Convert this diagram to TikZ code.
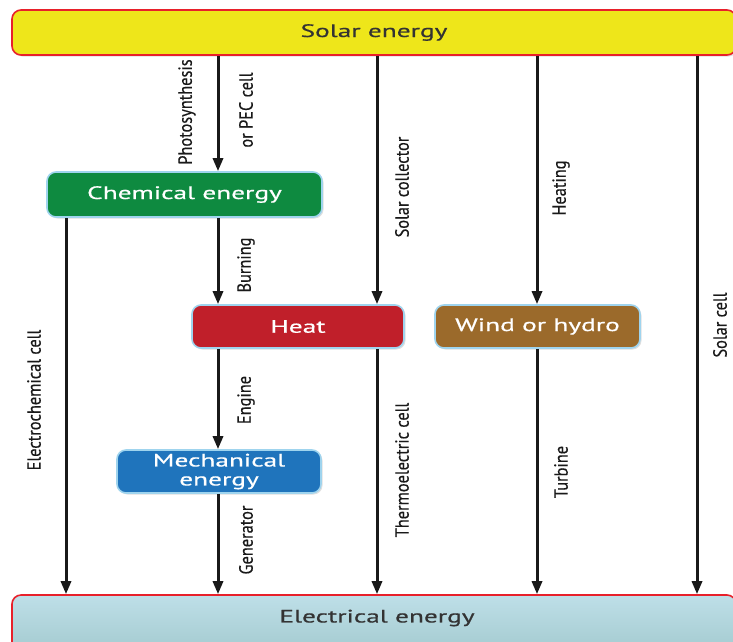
\documentclass[tikz,border=0pt]{standalone}
\usepackage{fontspec}
\usetikzlibrary{arrows.meta,shadows}
\newfontfamily\boxfontfam[FakeStretch=1.52,FakeBold=0.6]{PT Sans}
\newfontfamily\labfontfam[FakeStretch=0.86,FakeBold=0.4]{PT Sans}
\definecolor{sunyellow}{HTML}{EEE61A}
\definecolor{sunred}{HTML}{E8202A}
\definecolor{chemgreen}{HTML}{0E8A40}
\definecolor{heatred}{HTML}{C01F2A}
\definecolor{windbrown}{HTML}{9B6A2B}
\definecolor{mechblue}{HTML}{1F74BC}
\definecolor{edgeblue}{HTML}{9FD4EE}
\definecolor{electop}{HTML}{BEDFE8}
\definecolor{elecbot}{HTML}{9EC6CA}
\definecolor{darktext}{HTML}{333333}
\tikzset{
  box/.style={draw=edgeblue, line width=1.6pt, rounded corners=9pt, text=white,
    font=\boxfontfam\fontsize{18}{20}\selectfont, inner sep=0pt, align=center,
    drop shadow={opacity=0.25, shadow xshift=1.5pt, shadow yshift=-1.5pt}},
  bigbox/.style={box, draw=sunred, text=darktext},
  arr/.style={line width=3pt, draw=black!90, -{Triangle[width=10pt,length=13pt]}},
  lab/.style={rotate=90, font=\labfontfam\fontsize{19}{20}\selectfont, text=black!90, inner sep=0pt},
}
\begin{document}
\begin{tikzpicture}[x=1pt,y=-1pt]
\useasboundingbox (0,0) rectangle (733,641);
% column coordinates
\coordinate (c1) at (66,0);
\coordinate (c2) at (218,0);
\coordinate (c3) at (377,0);
\coordinate (c4) at (537,0);
\coordinate (c5) at (697,0);
% boxes
\node[bigbox, fill=sunyellow, minimum width=724pt, minimum height=45pt] (solar) at (374,32.5) {Solar energy};
\node[box, fill=chemgreen, minimum width=275pt, minimum height=45pt] (chem) at (184.5,194.5) {Chemical energy};
\node[box, fill=heatred, minimum width=212pt, minimum height=43pt] (heat) at (298,326.5) {Heat};
\node[box, fill=windbrown, minimum width=205pt, minimum height=43pt] (wind) at (537.5,326.5) {Wind or hydro};
\node[box, fill=mechblue, minimum width=204pt, minimum height=43pt] (mech) at (219,471.5) {Mechanical\\[-1pt]energy};
\node[bigbox, top color=electop, bottom color=elecbot, minimum width=724pt, minimum height=70pt] (elec) at (374,630) {};
\node[font=\boxfontfam\fontsize{18}{20}\selectfont, text=darktext, inner sep=0pt] (elecT) at (377,618) {Electrical energy};
% connectors
\draw[arr] (chem.south -| c1) -- (elec.north -| c1);
\draw[arr] (solar.south -| c2) -- (chem.north -| c2);
\draw[arr] (chem.south -| c2) -- (heat.north -| c2);
\draw[arr] (heat.south -| c2) -- (mech.north -| c2);
\draw[arr] (mech.south -| c2) -- (elec.north -| c2);
\draw[arr] (solar.south -| c3) -- (heat.north -| c3);
\draw[arr] (heat.south -| c3) -- (elec.north -| c3);
\draw[arr] (solar.south -| c4) -- (wind.north -| c4);
\draw[arr] (wind.south -| c4) -- (elec.north -| c4);
\draw[arr] (solar.south -| c5) -- (elec.north -| c5);
% labels
\node[lab] (lPhoto) at (187,112) {Photosynthesis};
\node[lab] (lPEC) at (246,110) {or PEC cell};
\node[lab] (lBurn) at (246,265) {Burning};
\node[lab] (lEngine) at (246,400) {Engine};
\node[lab] (lGen) at (246,540) {Generator};
\node[lab] (lElectro) at (34,400) {Electrochemical cell};
\node[lab] (lColl) at (402,187) {Solar collector};
\node[lab] (lThermo) at (402,470) {Thermoelectric cell};
\node[lab] (lHeat) at (561,188) {Heating};
\node[lab] (lTurb) at (561,472) {Turbine};
\node[lab] (lSolarCell) at (720,325) {Solar cell};
\end{tikzpicture}
\end{document}
